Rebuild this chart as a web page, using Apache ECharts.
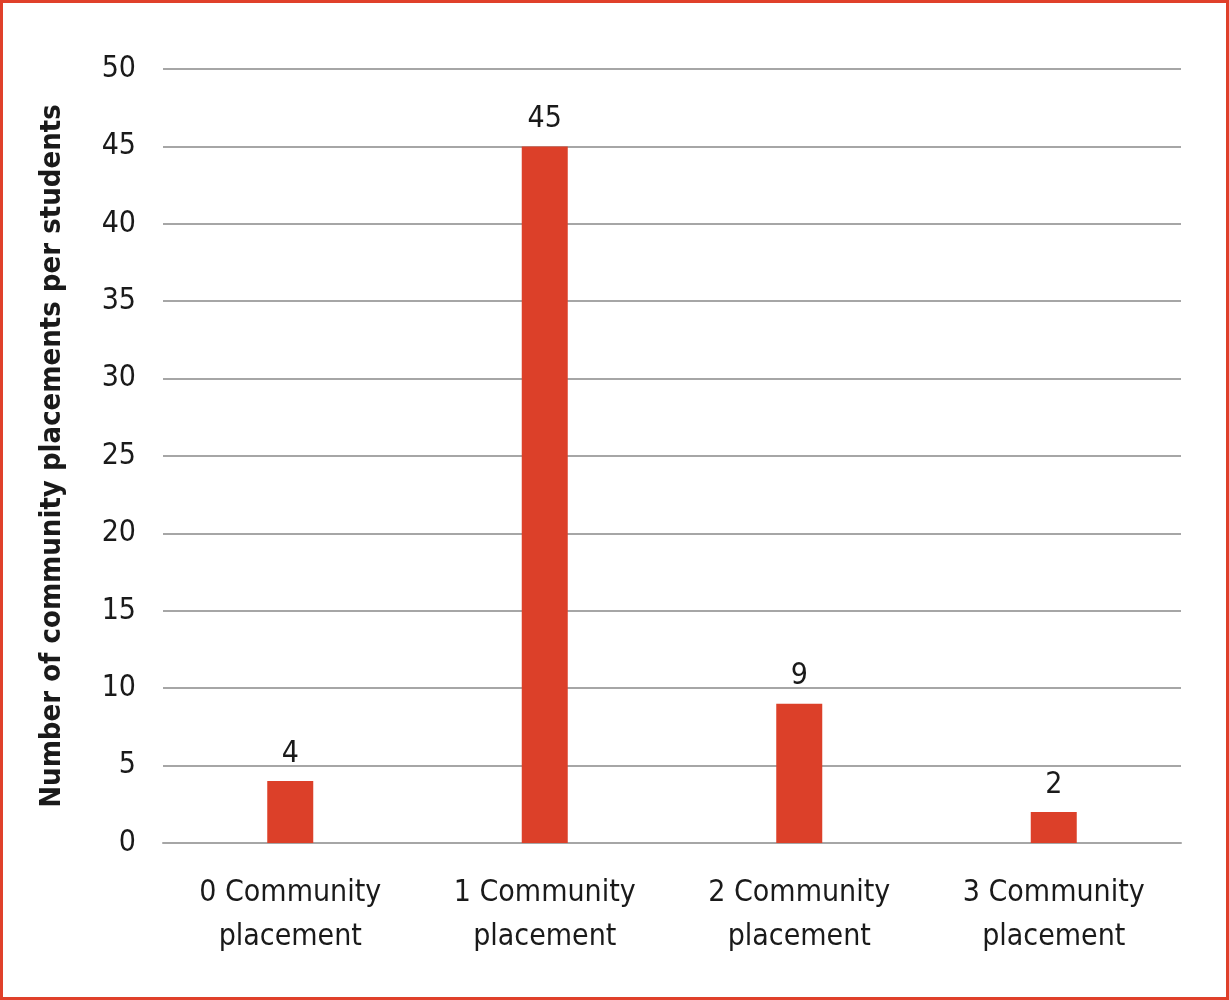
<!DOCTYPE html>
<html><head><meta charset="utf-8">
<script src="https://cdn.jsdelivr.net/npm/echarts@6/dist/echarts.min.js"></script>
<style>
html,body{margin:0;padding:0;background:#fff;}
#wrap{position:relative;width:1229px;height:1000px;}
#chart{position:absolute;left:0;top:0;width:1229px;height:1000px;}
#frame{position:absolute;left:0;top:0;width:1229px;height:1000px;box-sizing:border-box;border:3px solid #e0402a;pointer-events:none;}
</style></head>
<body>
<div id="wrap"><div id="chart"></div><div id="frame"></div></div>
<script>
const categories = ['0 Community\nplacement', '1 Community\nplacement', '2 Community\nplacement', '3 Community\nplacement'];
const values = [4, 45, 9, 2];
const yTicks = { min: 0, max: 50, interval: 5 };
const yTitle = 'Number of community placements per students';

const FONT = '"Liberation Sans Narrow", "DejaVu Sans Condensed", Roboto, sans-serif';
const chart = echarts.init(document.getElementById('chart'), null, { renderer: 'canvas' });
chart.setOption({
  animation: false,
  backgroundColor: '#ffffff',
  grid: { left: 163, right: 48, top: 69, bottom: 157, containLabel: false },
  xAxis: {
    type: 'category',
    data: categories,
    axisLine: { lineStyle: { color: '#a6a6a6', width: 2 } },
    axisTick: { show: false },
    axisLabel: { color: '#1a1a1a', fontFamily: FONT, fontSize: 30, lineHeight: 44, margin: 28, interval: 0 }
  },
  yAxis: {
    type: 'value',
    min: yTicks.min, max: yTicks.max, interval: yTicks.interval,
    name: yTitle,
    nameLocation: 'middle',
    nameGap: 96,
    nameTextStyle: { color: '#1a1a1a', fontFamily: FONT, fontSize: 29, fontWeight: 'bold' },
    axisLine: { show: false },
    axisTick: { show: false },
    splitLine: { lineStyle: { color: '#a6a6a6', width: 2 } },
    axisLabel: { color: '#1a1a1a', fontFamily: FONT, fontSize: 30, margin: 27 }
  },
  series: [{
    type: 'bar',
    data: values,
    barWidth: 46,
    itemStyle: { color: '#dc4029' },
    label: { show: true, position: 'top', distance: 12, color: '#1a1a1a', fontFamily: FONT, fontSize: 30 }
  }]
});
</script>
</body></html>
